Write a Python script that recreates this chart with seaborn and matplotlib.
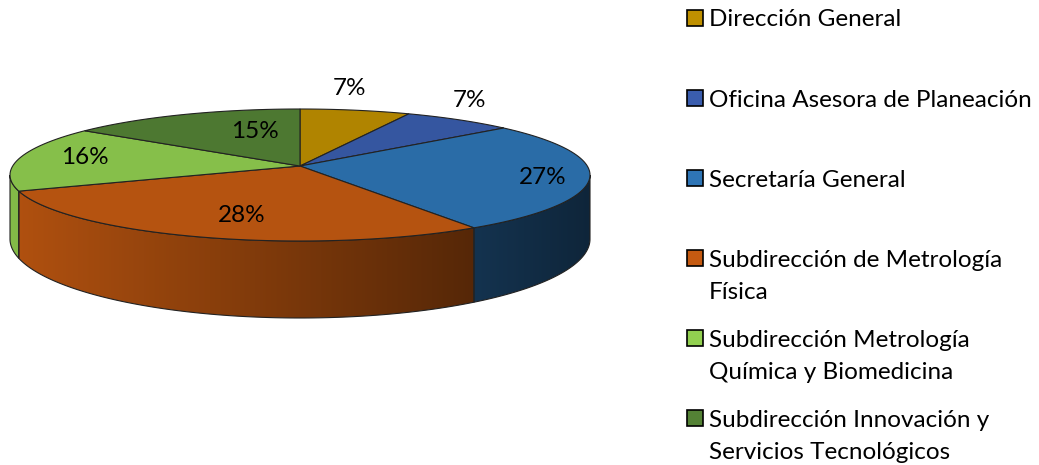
"""
Gráfico de pastel 3D: distribución porcentual por dependencia
"""
import numpy as np
import matplotlib
matplotlib.use('Agg')
import matplotlib.pyplot as plt
from matplotlib.patches import Polygon, Rectangle
from matplotlib.path import Path
from matplotlib.transforms import Transform, Affine2D
import seaborn as sns

# ==================== Datos ====================
categories = [
    "Dirección General",
    "Oficina Asesora de Planeación",
    "Secretaría General",
    "Subdirección de Metrología\nFísica",
    "Subdirección Metrología\nQuímica y Biomedicina",
    "Subdirección Innovación y\nServicios Tecnológicos",
]
percentages = [7, 7, 27, 28, 16, 15]
base_colors = ["#BF9000", "#3A5DAE", "#2E75B6", "#C55A11", "#92D050", "#548235"]

# posiciones de las etiquetas en coordenadas de la elipse unitaria
label_uv = [(0.172, 1.318), (0.586, 1.136), (0.838, -0.045),
            (-0.200, -0.621), (-0.741, 0.258), (-0.155, 0.652)]

# ==================== Configuración ====================
sns.set_theme(style="white")
plt.rcParams['font.family'] = ['Lato', 'DejaVu Sans']

W, H = 1039, 465
FONT_SIZE = 17.5
DROP = 64 / 66      # desplazamiento vertical de la base (unidades de la elipse)
BOTTOM_R = 79 / 66  # radio vertical de la elipse inferior
PERSP = 0.136       # el centro del pastel se ve algo más arriba (perspectiva)


class Perspective(Transform):
    """Transformación proyectiva que conserva el círculo unitario
    y desplaza el centro hacia arriba, como la perspectiva de Excel."""
    input_dims = output_dims = 2
    is_separable = False

    def __init__(self, c):
        super().__init__()
        self.c = c

    def transform_non_affine(self, xy):
        xy = np.asarray(xy, dtype=float).reshape(-1, 2)
        x, y = xy[:, 0], xy[:, 1]
        d = 1 + self.c * y
        return np.column_stack([x * np.sqrt(1 - self.c ** 2) / d, (y + self.c) / d])

    def transform_path_non_affine(self, path):
        # aplanar las curvas con buena resolución antes de transformar
        big = Affine2D().scale(1000)
        polys = path.to_polygons(transform=big, closed_only=True)
        paths = [Path(self.transform_non_affine(p / 1000.0), closed=True) for p in polys]
        return Path.make_compound_path(*paths)


persp = Perspective(PERSP)


def persp_angle(deg):
    p = persp.transform_non_affine([[np.cos(np.radians(deg)), np.sin(np.radians(deg))]])[0]
    return np.degrees(np.arctan2(p[1], p[0]))


fig = plt.figure(figsize=(W / 100, H / 100), dpi=100)

# cara superior: elipse en píxeles x 10..590, y 109..241
ax = fig.add_axes([10 / W, (H - 241) / H, 580 / W, 132 / H])
palette = sns.color_palette(base_colors)
top_colors = [tuple(c * 0.92 for c in col) for col in palette]

wedges, _ = ax.pie(percentages, colors=top_colors, startangle=90, counterclock=False,
                   radius=1, wedgeprops=dict(edgecolor='#222222', linewidth=0.8, zorder=5))
for w in wedges:
    w.set_transform(persp + ax.transData)
    w.set_clip_on(False)


def shade_strip(color, n=256):
    # degradado horizontal: más claro a la izquierda, oscuro a la derecha
    s = np.linspace(0.9, 0.32, n)
    return np.array(color)[None, None, :] * s[None, :, None]


# paredes laterales (solo la mitad frontal es visible)
total = sum(percentages)
start = 90.0
for pct, col in zip(percentages, palette):
    end = start - 360.0 * pct / total
    a_start = persp_angle(start)
    a_end = persp_angle(end)
    if a_end > a_start:
        a_end -= 360.0
    hi, lo = min(a_start, 0.0), max(a_end, -180.0)
    if hi > lo:
        t = np.radians(np.linspace(hi, lo, 120))
        top = np.column_stack([np.cos(t), np.sin(t)])
        bot = np.column_stack([np.cos(t), -DROP + BOTTOM_R * np.sin(t)])
        poly = Polygon(np.vstack([top, bot[::-1]]), closed=True, facecolor='none',
                       edgecolor='#222222', linewidth=0.8, zorder=3, clip_on=False)
        ax.add_patch(poly)
        im = ax.imshow(shade_strip(col), extent=[-1, 1, -DROP - BOTTOM_R, 0],
                       aspect='auto', zorder=2, interpolation='bilinear')
        im.set_clip_box(fig.bbox)
        im.set_clip_path(poly)
    start = end

ax.set_aspect('auto')
ax.set_xlim(-1, 1)
ax.set_ylim(-1, 1)
ax.axis('off')

# etiquetas de porcentaje
for pct, (u, v) in zip(percentages, label_uv):
    ax.text(u, v, f"{pct}%", ha='center', va='center', fontsize=FONT_SIZE,
            color='black', zorder=10, clip_on=False)

# ==================== Leyenda ====================
lax = fig.add_axes([0, 0, 1, 1])
lax.set_xlim(0, W)
lax.set_ylim(H, 0)
lax.axis('off')
for i, (label, col) in enumerate(zip(categories, palette)):
    yc = 18 + 80 * i
    lax.add_patch(Rectangle((687, yc - 8), 16, 16, facecolor=col,
                            edgecolor='black', linewidth=1.2))
    for k, line in enumerate(label.split("\n")):
        lax.text(709, yc + 8.5 + 32.5 * k, line, ha='left', va='baseline',
                 fontsize=FONT_SIZE, color='black')

plt.savefig("out.png", dpi=100)
plt.close('all')
